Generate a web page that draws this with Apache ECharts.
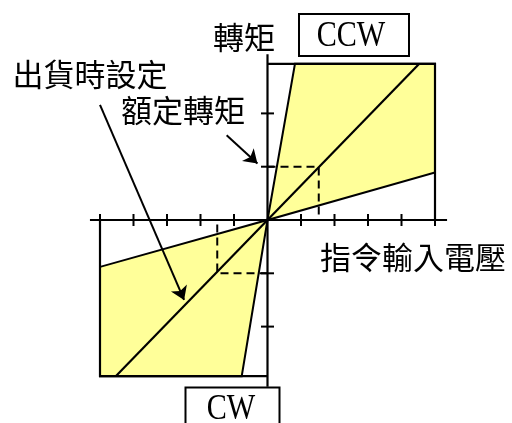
<!DOCTYPE html>
<html><head><meta charset="utf-8">
<script src="https://cdn.jsdelivr.net/npm/echarts@6/dist/echarts.min.js"></script>
<style>html,body{margin:0;padding:0;background:#fff}#c{width:512px;height:423px}</style>
</head><body><div id="c"></div>
<script>
// ---- data (voltage units on x, torque units on y) ----
const xTicks = [-5, -4, -3, -2, -1, 1, 2, 3, 4, 5];
const yTicks = [-2, -1, 1, 2];
const xAxisSpan = [[-5.3, 0], [5.36, 0]];
const yAxisSpan = [[0, -3.13], [0, 3.11]];
const ccwRegion = [[0, 0], [0.82, 2.93], [5, 2.93], [5, 0.89]];
const cwRegion = [[0, 0], [-0.77, -2.93], [-5, -2.93], [-5, -0.88]];
const ccwFrame = [[0, 2.93], [5, 2.93], [5, 0]];
const cwFrame = [[0, -2.93], [-5, -2.93], [-5, 0]];
const diagonal = [[-4.53, -2.93], [4.53, 2.93]];
const ratedCCW = [[0, 1], [1.53, 1], [1.53, 0]];
const ratedCW = [[0, -1], [-1.5, -1], [-1.5, 0]];
const ratedArrow = [[-1.22, 1.59], [-0.3, 1.06]];
const presetArrow = [[-5.0, 2.16], [-2.49, -1.5]];
const labels = {
  torque: '轉矩', voltage: '指令輸入電壓', preset: '出貨時設定', rated: '額定轉矩', ccw: 'CCW', cw: 'CW'
};

const chart = echarts.init(document.getElementById('c'), null, {renderer: 'canvas'});
const black = '#000';
const yellow = '#ffff99';
const cjk = '"Noto Sans CJK TC", "Noto Sans CJK SC", sans-serif';
const serif = '"Liberation Serif", "DejaVu Serif", serif';

function polygonSeries(points, z) {
  return {
    type: 'custom', z: z, silent: true, data: [0],
    renderItem: (params, api) => ({
      type: 'polygon',
      shape: {points: points.map(p => api.coord(p))},
      style: {fill: yellow, stroke: black, lineWidth: 2, lineJoin: 'miter'}
    })
  };
}
function lineSeries(coordsList, style, z, extra) {
  return Object.assign({
    type: 'lines', coordinateSystem: 'cartesian2d', polyline: true, z: z, silent: true,
    symbol: 'none',
    lineStyle: Object.assign({color: black, width: 2, opacity: 1}, style),
    data: coordsList.map(c => ({coords: c}))
  }, extra || {});
}
function tickSeries(values, horizontal) {
  return {
    type: 'custom', z: 6, silent: true, data: values,
    renderItem: (params, api) => {
      const v = api.value(0);
      const p = horizontal ? api.coord([v, 0]) : api.coord([0, v]);
      const shape = horizontal
        ? {x1: p[0], y1: p[1] - 6, x2: p[0], y2: p[1] + 6}
        : {x1: p[0] - 6.5, y1: p[1], x2: p[0] + 6.5, y2: p[1]};
      return {type: 'line', shape: shape, style: {stroke: black, lineWidth: 2}};
    }
  };
}

chart.setOption({
  animation: false,
  backgroundColor: '#fff',
  grid: {left: 66.5, right: 43.5, top: 33.45, bottom: 16.45},
  xAxis: {type: 'value', min: -6, max: 6, show: false},
  yAxis: {type: 'value', min: -3.5, max: 3.5, show: false},
  series: [
    polygonSeries(ccwRegion, 1),
    polygonSeries(cwRegion, 1),
    lineSeries([ratedCCW, ratedCW], {type: [8, 5], width: 2}, 2),
    lineSeries([ccwFrame, cwFrame, diagonal], {width: 2.2}, 3),
    lineSeries([xAxisSpan, yAxisSpan], {width: 2.2}, 5),
    tickSeries(xTicks, true),
    tickSeries(yTicks, false),
    lineSeries([ratedArrow, presetArrow], {width: 2}, 7, {polyline: false, symbol: ['none', 'arrow'], symbolSize: [0, 13]})
  ],
  graphic: [
    {type: 'rect', shape: {x: 299, y: 14, width: 110, height: 42}, style: {fill: '#fff', stroke: black, lineWidth: 2}},
    {type: 'rect', shape: {x: 185.5, y: 387.5, width: 94, height: 50}, style: {fill: '#fff', stroke: black, lineWidth: 2}},
    {type: 'text', x: 351, y: 37, scaleX: 0.86, style: {text: labels.ccw, font: '35px ' + serif, fill: black, align: 'center', verticalAlign: 'middle'}},
    {type: 'text', x: 231, y: 410, scaleX: 0.86, style: {text: labels.cw, font: '35px ' + serif, fill: black, align: 'center', verticalAlign: 'middle'}},
    {type: 'text', x: 244, y: 37, style: {text: labels.torque, font: '31px ' + cjk, fill: black, align: 'center', verticalAlign: 'middle'}},
    {type: 'text', x: 90, y: 74, style: {text: labels.preset, font: '31px ' + cjk, fill: black, align: 'center', verticalAlign: 'middle'}},
    {type: 'text', x: 183, y: 110, style: {text: labels.rated, font: '31px ' + cjk, fill: black, align: 'center', verticalAlign: 'middle'}},
    {type: 'text', x: 413, y: 257, style: {text: labels.voltage, font: '31px ' + cjk, fill: black, align: 'center', verticalAlign: 'middle'}}
  ]
});
</script>
</body></html>
